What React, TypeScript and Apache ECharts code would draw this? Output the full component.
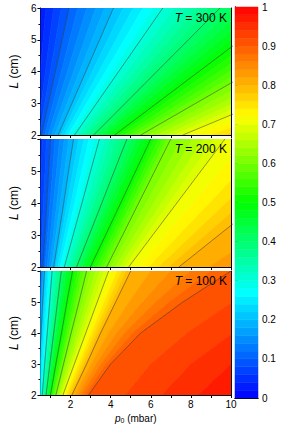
import React, { useEffect, useRef } from "react";
import * as echarts from "echarts";

const FONT = "'Liberation Sans', Arial, sans-serif";

const TEMPERATURES = [300, 200, 100];
const L_ROWS = [2, 3, 4, 5, 6];
const LEVELS = [0, 0.1, 0.2, 0.3, 0.4, 0.5, 0.6, 0.7, 0.8, 0.9, 1.0];
const CONTOUR_LEVELS = [0.1, 0.2, 0.3, 0.4, 0.5, 0.6, 0.7, 0.8, 0.9];
const X_LABELS = [2, 4, 6, 8, 10];
const X_TICKS = [1, 2, 3, 4, 5, 6, 7, 8, 9, 10];

// p0 (mbar) at which each level is crossed, for L = 2,3,4,5,6 cm
const P0_T300 = [
  [0, 0, 0, 0, 0],
  [0.55, 0.89, 1.24, 1.58, 1.92],
  [1.38, 2.07, 2.76, 3.45, 4.14],
  [2.2, 3.3, 4.4, 5.5, 6.6],
  [3.15, 4.73, 6.3, 7.88, 9.45],
  [4.2, 6.3, 8.4, 10.5, 12.6],
  [5.5, 8.25, 11, 13.75, 16.5],
  [7.6, 11.4, 15.2, 19, 22.8],
  [11.2, 16.8, 22.4, 28, 33.6],
  [18, 27, 36, 45, 54],
  [40, 60, 80, 100, 120],
];
const P0_T200 = [
  [0, 0, 0, 0, 0],
  [0.62, 0.72, 0.81, 0.91, 1.0],
  [1.16, 1.41, 1.66, 1.9, 2.15],
  [1.69, 2.13, 2.57, 3.0, 3.44],
  [2.3, 2.93, 3.56, 4.18, 4.81],
  [2.99, 3.75, 4.5, 5.25, 6.0],
  [3.8, 4.6, 5.4, 6.2, 7.0],
  [4.9, 6.1, 7.3, 8.5, 9.7],
  [7.4, 9.4, 11.4, 13.4, 15.4],
  [15, 19, 23, 27, 31],
  [40, 50, 60, 70, 80],
];
const P0_T100 = [
  [-0.4, -0.3, -0.2, -0.1, 0.1],
  [0.1, 0.2, 0.3, 0.4, 0.5],
  [0.35, 0.44, 0.53, 0.61, 0.7],
  [0.59, 0.71, 0.84, 0.96, 1.08],
  [0.78, 0.97, 1.16, 1.35, 1.54],
  [1.0, 1.27, 1.55, 1.82, 2.1],
  [1.27, 1.65, 2.03, 2.42, 2.8],
  [1.62, 2.19, 2.76, 3.33, 3.9],
  [2.07, 2.8, 3.5, 4.25, 5.0],
  [2.9, 4.0, 5.5, 7.6, 10],
  [12, 14, 17, 20, 24],
];
const PANELS = [P0_T300, P0_T200, P0_T100];

const STOPS: [number, number[]][] = [
  [0, [0, 0, 255]],
  [0.27, [0, 255, 255]],
  [0.5, [0, 255, 0]],
  [0.72, [255, 255, 0]],
  [1, [255, 0, 0]],
];
function jet(v: number): string {
  const t = Math.max(0, Math.min(1, v));
  for (let i = 1; i < STOPS.length; i++) {
    if (t <= STOPS[i][0]) {
      const [a, ca] = STOPS[i - 1];
      const [b, cb] = STOPS[i];
      const f = (t - a) / (b - a);
      const c = ca.map((x, k) => Math.round(x + (cb[k] - x) * f));
      return `rgb(${c[0]},${c[1]},${c[2]})`;
    }
  }
  return "rgb(255,0,0)";
}

const GRID_TOPS = [8, 139, 271];
const GRID_HEIGHTS = [127, 128, 127];
const GRID_LEFT = 24;
const GRID_WIDTH = 207;

function buildOption() {
  const grid: any[] = [];
  const xAxis: any[] = [];
  const yAxis: any[] = [];
  const series: any[] = [];
  const graphic: any[] = [];
  const axisLine = { show: true, lineStyle: { color: "#000", width: 1 } };

  PANELS.forEach((P, gi) => {
    grid.push({
      left: GRID_LEFT,
      top: GRID_TOPS[gi],
      width: GRID_WIDTH,
      height: GRID_HEIGHTS[gi],
    });
    const last = gi === PANELS.length - 1;
    xAxis.push({
      gridIndex: gi,
      type: "value",
      min: 0.5,
      max: 10,
      axisLine,
      axisTick: { show: true, inside: false, length: 3, customValues: X_TICKS, lineStyle: { color: "#000" } },
      axisLabel: {
        show: last,
        customValues: X_LABELS,
        fontFamily: FONT,
        fontSize: 10,
        color: "#000",
        margin: 4,
      },
      splitLine: { show: false },
      name: last ? "{i|p}{s|0} (mbar)" : "",
      nameLocation: "middle",
      nameGap: 17,
      nameTextStyle: {
        fontFamily: FONT,
        fontSize: 10,
        color: "#000",
        rich: {
          i: { fontStyle: "italic", fontFamily: FONT, fontSize: 10, color: "#000" },
          s: { fontFamily: FONT, fontSize: 7, color: "#000", padding: [5, 0, 0, 0] },
        },
      },
    });
    xAxis.push({
      gridIndex: gi,
      type: "value",
      min: 0.5,
      max: 10,
      position: "top",
      axisLine,
      axisTick: { show: false },
      axisLabel: { show: false },
      splitLine: { show: false },
    });
    yAxis.push({
      gridIndex: gi,
      type: "value",
      min: 2,
      max: 6,
      interval: 1,
      axisLine,
      axisTick: { show: true, inside: false, length: 3, lineStyle: { color: "#000" } },
      minorTick: { show: true, splitNumber: 2, length: 2, lineStyle: { color: "#000" } },
      axisLabel: {
        fontFamily: FONT,
        fontSize: 10,
        color: "#000",
        margin: 4,
        showMaxLabel: gi === 0,
      },
      splitLine: { show: false },
      name: "{i|L} (cm)",
      nameLocation: "middle",
      nameGap: 13,
      nameRotate: 90,
      nameTextStyle: {
        fontFamily: FONT,
        fontSize: 12,
        color: "#000",
        rich: {
          i: { fontStyle: "italic", fontFamily: FONT, fontSize: 12, color: "#000" },
        },
      },
    });
    yAxis.push({
      gridIndex: gi,
      type: "value",
      min: 2,
      max: 6,
      position: "right",
      axisLine,
      axisTick: { show: false },
      axisLabel: { show: false },
      splitLine: { show: false },
    });

    const bands = LEVELS.slice(0, -1).map((_, i) => ({ value: [5, 4], band: i }));
    series.push({
      type: "custom",
      xAxisIndex: gi * 2,
      yAxisIndex: gi * 2,
      clip: true,
      silent: true,
      data: bands,
      renderItem: (params: any, api: any) => {
        const b = params.dataIndex;
        const lo = P[b];
        const hi = P[b + 1];
        const lvLo = LEVELS[b];
        const lvHi = LEVELS[b + 1];
        const n = Math.max(1, Math.round((lvHi - lvLo) / 0.02));
        const children: any[] = [];
        for (let s = 0; s < n; s++) {
          const t0 = s / n;
          const t1 = (s + 1) / n;
          const pts: number[][] = [];
          L_ROWS.forEach((L, r) => pts.push(api.coord([lo[r] + (hi[r] - lo[r]) * t0, L])));
          for (let r = L_ROWS.length - 1; r >= 0; r--)
            pts.push(api.coord([lo[r] + (hi[r] - lo[r]) * t1, L_ROWS[r]]));
          const col = jet(lvLo + ((s + 0.5) / n) * (lvHi - lvLo));
          children.push({
            type: "polygon",
            shape: { points: pts },
            style: { fill: col, stroke: col, lineWidth: 0.7 },
          });
        }
        const cs = params.coordSys;
        return {
          type: "group",
          children,
          clipPath: { type: "rect", shape: { x: cs.x, y: cs.y, width: cs.width, height: cs.height } },
        };
      },
      z: 1,
    });

    CONTOUR_LEVELS.forEach((lv) => {
      const k = LEVELS.indexOf(lv);
      series.push({
        type: "line",
        xAxisIndex: gi * 2,
        yAxisIndex: gi * 2,
        data: L_ROWS.map((L, r) => [P[k][r], L]),
        symbol: "none",
        clip: true,
        silent: true,
        lineStyle: { color: "#333", width: 0.6, opacity: 0.85 },
        z: 3,
      });
    });

    graphic.push({
      type: "text",
      right: 282 - 227,
      top: GRID_TOPS[gi] + 4,
      style: {
        text: "{i|T} = " + TEMPERATURES[gi] + " K",
        font: `12px ${FONT}`,
        fill: "#000",
        rich: {
          i: { fontStyle: "italic", fontSize: 12, fontFamily: FONT, fill: "#000" },
        },
      },
      z: 10,
    });
  });

  // colour bar
  const cbGrid = grid.length;
  grid.push({ left: 235, top: 7, width: 23, height: 391 });
  const cbX = xAxis.length;
  xAxis.push({
    gridIndex: cbGrid,
    type: "value",
    min: 0,
    max: 1,
    axisLine,
    axisTick: { show: false },
    axisLabel: { show: false },
    splitLine: { show: false },
  });
  xAxis.push({
    gridIndex: cbGrid,
    type: "value",
    min: 0,
    max: 1,
    position: "top",
    axisLine,
    axisTick: { show: false },
    axisLabel: { show: false },
    splitLine: { show: false },
  });
  const cbY = yAxis.length;
  yAxis.push({
    gridIndex: cbGrid,
    type: "value",
    min: 0,
    max: 1,
    interval: 0.1,
    position: "right",
    axisLine,
    axisTick: { show: true, inside: false, length: 3, lineStyle: { color: "#000" } },
    axisLabel: { fontFamily: FONT, fontSize: 10, color: "#000", margin: 4 },
    splitLine: { show: false },
  });
  yAxis.push({
    gridIndex: cbGrid,
    type: "value",
    min: 0,
    max: 1,
    position: "left",
    axisLine,
    axisTick: { show: false },
    axisLabel: { show: false },
    splitLine: { show: false },
  });
  const cbBands = Array.from({ length: 50 }, (_, i) => ({ value: [0.5, 0.5], band: i }));
  series.push({
    type: "custom",
    xAxisIndex: cbX,
    yAxisIndex: cbY,
    silent: true,
    data: cbBands,
    renderItem: (params: any, api: any) => {
      const i = params.dataIndex;
      const p0 = api.coord([0, i * 0.02]);
      const p1 = api.coord([1, (i + 1) * 0.02]);
      const col = jet((i + 0.5) * 0.02);
      return {
        type: "rect",
        shape: { x: p0[0], y: p1[1], width: p1[0] - p0[0], height: p0[1] - p1[1] },
        style: { fill: col, stroke: col, lineWidth: 0.5 },
      };
    },
    z: 1,
  });

  return { animation: false, grid, xAxis, yAxis, series, graphic };
}

export default function App() {
  const ref = useRef<HTMLDivElement>(null);
  useEffect(() => {
    if (!ref.current) return;
    const chart = echarts.init(ref.current, undefined, { renderer: "svg" });
    chart.setOption(buildOption() as any);
    return () => chart.dispose();
  }, []);
  return (
    <div
      ref={ref}
      style={{ position: "fixed", left: 0, top: 0, width: 282, height: 425, background: "#fff" }}
    />
  );
}
